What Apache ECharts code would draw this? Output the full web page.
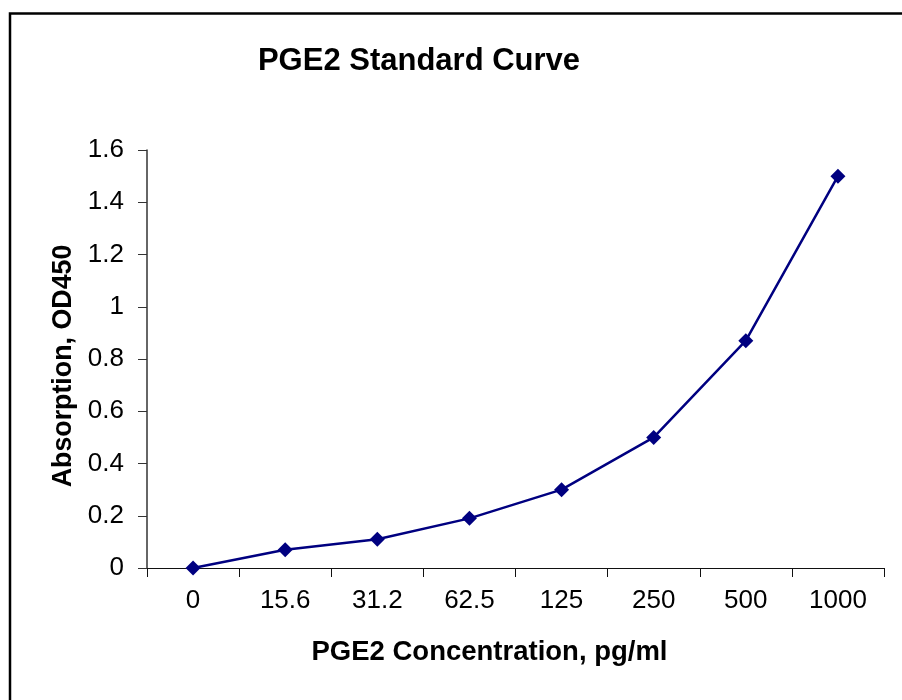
<!DOCTYPE html>
<html>
<head>
<meta charset="utf-8">
<script src="https://cdn.jsdelivr.net/npm/echarts@6/dist/echarts.min.js"></script>
<style>html,body{margin:0;padding:0;background:#fff;}#c{width:902px;height:700px;}</style>
</head>
<body>
<div id="c"></div>
<script>
const categories = ['0', '15.6', '31.2', '62.5', '125', '250', '500', '1000'];
const absorbance = [0, 0.07, 0.11, 0.19, 0.30, 0.50, 0.87, 1.50];
const chartTitle = 'PGE2 Standard Curve';
const xTitle = 'PGE2 Concentration, pg/ml';
const yTitle = 'Absorption, OD450';

const FONT = '"Liberation Sans", Arial, sans-serif';
const chart = echarts.init(document.getElementById('c'), null, {renderer: 'canvas'});
chart.setOption({
  backgroundColor: '#fff',
  animation: false,
  graphic: [{
    type: 'rect', silent: true,
    shape: {x: 10, y: 13.5, width: 1200, height: 1200},
    style: {fill: 'none', stroke: '#000', lineWidth: 2.5}
  }],
  title: {
    text: chartTitle,
    left: 414, top: 41, textAlign: 'center',
    textStyle: {fontFamily: FONT, fontWeight: 'bold', fontSize: 31, color: '#000'}
  },
  grid: {left: 147, right: 18, top: 150, bottom: 132},
  xAxis: {
    type: 'category',
    data: categories,
    boundaryGap: true,
    name: xTitle,
    nameLocation: 'middle',
    nameGap: 70,
    nameTextStyle: {fontFamily: FONT, fontWeight: 'bold', fontSize: 27.5, color: '#000', padding: [0, 52, 0, 0]},
    axisLine: {lineStyle: {color: '#111', width: 1}},
    axisTick: {show: true, interval: 0, length: 9, alignWithLabel: false, lineStyle: {color: '#111'}},
    axisLabel: {fontFamily: FONT, fontSize: 26, color: '#000', margin: 20, interval: 0},
    splitLine: {show: false}
  },
  yAxis: {
    type: 'value',
    min: 0, max: 1.6, interval: 0.2,
    name: yTitle,
    nameLocation: 'middle',
    nameGap: 64,
    nameTextStyle: {fontFamily: FONT, fontWeight: 'bold', fontSize: 26.8, color: '#000', padding: [0, 14, 0, 0]},
    axisLine: {show: true, lineStyle: {color: '#333', width: 1.5}},
    axisTick: {show: true, length: 9, lineStyle: {color: '#333'}},
    axisLabel: {fontFamily: FONT, fontSize: 26, color: '#000', margin: 23},
    splitLine: {show: false}
  },
  series: [{
    type: 'line',
    data: absorbance,
    symbol: 'diamond',
    symbolSize: 15,
    itemStyle: {color: '#000080'},
    lineStyle: {color: '#000080', width: 2.5}
  }]
});
</script>
</body>
</html>
